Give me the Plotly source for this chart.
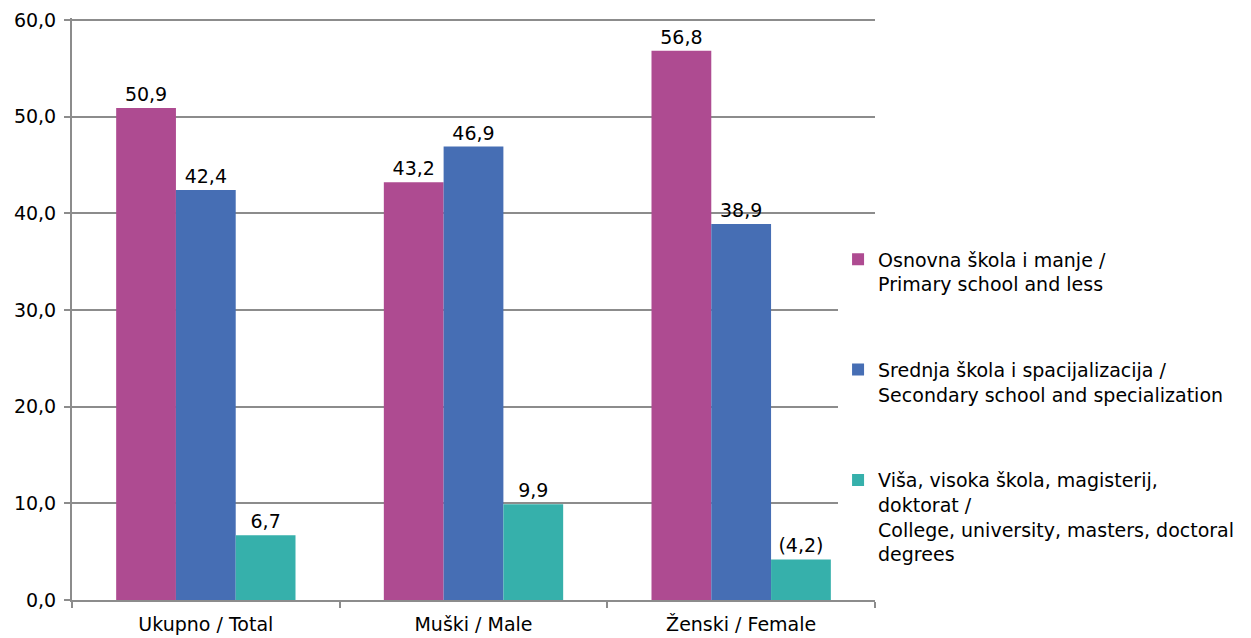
import plotly.graph_objects as go

categories = ["Ukupno / Total", "Muški / Male", "Ženski / Female"]
primary = [50.9, 43.2, 56.8]
secondary = [42.4, 46.9, 38.9]
higher = [6.7, 9.9, 4.2]
higher_labels = ["6,7", "9,9", "(4,2)"]
y_ticks = [0, 10, 20, 30, 40, 50, 60]
y_tick_labels = ["0,0", "10,0", "20,0", "30,0", "40,0", "50,0", "60,0"]

series_names = [
    "Osnovna škola i manje /<br>Primary school and less",
    "Srednja škola i spacijalizacija /<br>Secondary school and specialization",
    "Viša, visoka škola, magisterij,<br>doktorat /<br>College, university, masters, doctoral<br>degrees",
]
colors = ["#AE4B91", "#466EB4", "#36B0AB"]

def fmt(v):
    return f"{v:.1f}".replace(".", ",")

FONT = "DejaVu Sans"
FS = 19
fig = go.Figure()
for i, (name, vals, col) in enumerate(zip(series_names, [primary, secondary, higher], colors)):
    labels = higher_labels if i == 2 else [fmt(v) for v in vals]
    fig.add_trace(go.Bar(
        x=categories, y=vals, name=name, marker_color=col,
        marker_line_width=0,
        text=labels, textposition="outside", cliponaxis=False,
        textfont=dict(size=FS, color="#000000", family=FONT),
        legendgroup=f"g{i}",
    ))

fig.update_layout(
    width=1243, height=630,
    margin=dict(l=64, r=376, t=10, b=38, autoexpand=False),
    paper_bgcolor="white", plot_bgcolor="white",
    barmode="group", bargap=0.33, bargroupgap=0,
    font=dict(family=FONT, size=FS, color="#000000"),
    showlegend=True,
    legend=dict(
        x=0.954, xanchor="left", y=0.618, yanchor="top",
        font=dict(size=FS, family=FONT),
        tracegroupgap=58, traceorder="grouped", valign="top",
    ),
)
fig.update_yaxes(
    range=[0, 60.2], tickmode="array", tickvals=y_ticks, ticktext=y_tick_labels,
    showgrid=True, gridcolor="#8c8c8c", gridwidth=2,
    showline=True, linecolor="#8c8c8c", linewidth=2,
    ticks="outside", ticklen=6, tickcolor="#8c8c8c", tickwidth=2,
    tickfont=dict(size=FS, family=FONT),
    ticklabelstandoff=4,
    zeroline=False, automargin=False,
)
fig.update_xaxes(
    showline=True, linecolor="#8c8c8c", linewidth=2,
    ticks="outside", tickson="boundaries", ticklen=6, tickcolor="#8c8c8c", tickwidth=2,
    tickfont=dict(size=FS, family=FONT),
    ticklabelstandoff=6,
    automargin=False,
)

fig.write_html("out.html")
